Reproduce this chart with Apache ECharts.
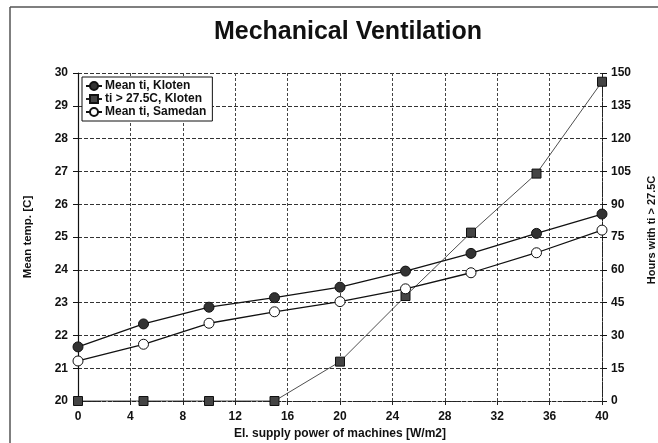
<!DOCTYPE html>
<html><head><meta charset="utf-8">
<script src="https://cdn.jsdelivr.net/npm/echarts@6/dist/echarts.min.js"></script>
<style>html,body{margin:0;padding:0;background:#fff}#c{width:658px;height:443px}</style>
</head><body><div id="c"></div>
<script>
const titleText = "Mechanical Ventilation";
const xTitle = "El. supply power of machines [W/m2]";
const yLeftTitle = "Mean temp. [C]";
const yRightTitle = "Hours with ti > 27.5C";
const power = [0, 5, 10, 15, 20, 25, 30, 35, 40];
const meanKloten = [21.65, 22.35, 22.86, 23.15, 23.47, 23.96, 24.5, 25.11, 25.7];
const hoursKloten = [0, 0, 0, 0, 18, 48, 77, 104, 146];
const meanSamedan = [21.22, 21.73, 22.37, 22.72, 23.03, 23.42, 23.91, 24.52, 25.21];
const seriesNames = ["Mean ti, Kloten", "ti > 27.5C, Kloten", "Mean ti, Samedan"];

const font = "'Liberation Sans', Arial, sans-serif";
const pair = (xs, ys) => xs.map((x, i) => [x, ys[i]]);
const chart = echarts.init(document.getElementById('c'));
chart.setOption({
  animation: false,
  backgroundColor: '#fff',
  title: { text: titleText, left: 343, top: 15, textAlign: 'center',
    textStyle: { fontFamily: font, fontSize: 25, fontWeight: 'bold', color: '#111' } },
  graphic: [
    { type: 'line', shape: { x1: 10, y1: 7, x2: 10, y2: 443 }, style: { stroke: '#555', lineWidth: 1.5 } },
    { type: 'line', shape: { x1: 10, y1: 7, x2: 658, y2: 7 }, style: { stroke: '#555', lineWidth: 1.5 } }
  ],
  legend: {
    orient: 'vertical', left: 82, top: 77, padding: [3, 6, 3, 3], itemGap: 1,
    itemWidth: 16, itemHeight: 10, backgroundColor: '#fff', borderColor: '#111', borderWidth: 1,
    textStyle: { fontFamily: font, fontSize: 12, fontWeight: 'bold', color: '#111', padding: [0,0,0,-2] },
    data: seriesNames
  },
  grid: { left: 78, right: 56, top: 73, bottom: 42, containLabel: false, outerBoundsMode: 'none' },
  xAxis: {
    type: 'value', min: 0, max: 40, interval: 4,
    name: xTitle, nameLocation: 'middle', nameGap: 27,
    nameTextStyle: { fontFamily: font, fontSize: 12, fontWeight: 'bold', color: '#111' },
    axisLine: { lineStyle: { color: '#222', type: [3, 2] } },
    axisTick: { show: true, length: 4, lineStyle: { color: '#222' } },
    axisLabel: { fontFamily: font, fontSize: 12, fontWeight: 'bold', color: '#111', margin: 10 },
    splitLine: { show: true, lineStyle: { color: '#444', type: [3, 2], width: 1 } }
  },
  yAxis: [
    { type: 'value', min: 20, max: 30, interval: 1, position: 'left',
      name: yLeftTitle, nameLocation: 'middle', nameGap: 44,
      nameTextStyle: { fontFamily: font, fontSize: 11.5, fontWeight: 'bold', color: '#111' },
      axisLine: { show: true, lineStyle: { color: '#111', width: 1.2 } },
      axisTick: { show: true, length: 5, lineStyle: { color: '#111' } },
      axisLabel: { fontFamily: font, fontSize: 12, fontWeight: 'bold', color: '#111', margin: 10 },
      splitLine: { show: true, lineStyle: { color: '#333', type: [4, 2], width: 1 } } },
    { type: 'value', min: 0, max: 150, interval: 15, position: 'right',
      name: yRightTitle, nameLocation: 'middle', nameGap: 44,
      nameTextStyle: { fontFamily: font, fontSize: 11, fontWeight: 'bold', color: '#111', padding: [0, 0, 0, 14] },
      axisLine: { show: true, lineStyle: { color: '#222', width: 1, type: [3, 1] } },
      axisTick: { show: true, length: 5, lineStyle: { color: '#111' } },
      axisLabel: { fontFamily: font, fontSize: 12, fontWeight: 'bold', color: '#111', margin: 9 },
      splitLine: { show: false } }
  ],
  series: [
    { name: seriesNames[0], type: 'line', yAxisIndex: 0, data: pair(power, meanKloten),
      symbol: 'circle', symbolSize: 10,
      itemStyle: { color: '#333', borderColor: '#111', borderWidth: 1 },
      lineStyle: { color: '#111', width: 1.3 } },
    { name: seriesNames[1], type: 'line', yAxisIndex: 1, data: pair(power, hoursKloten),
      symbol: 'rect', symbolSize: 9,
      itemStyle: { color: '#444', borderColor: '#111', borderWidth: 1 },
      lineStyle: { color: '#222', width: 0.8 } },
    { name: seriesNames[2], type: 'line', yAxisIndex: 0, data: pair(power, meanSamedan),
      symbol: 'circle', symbolSize: 10,
      itemStyle: { color: '#fff', borderColor: '#111', borderWidth: 1 },
      lineStyle: { color: '#111', width: 1.3 } }
  ]
});
</script></body></html>
